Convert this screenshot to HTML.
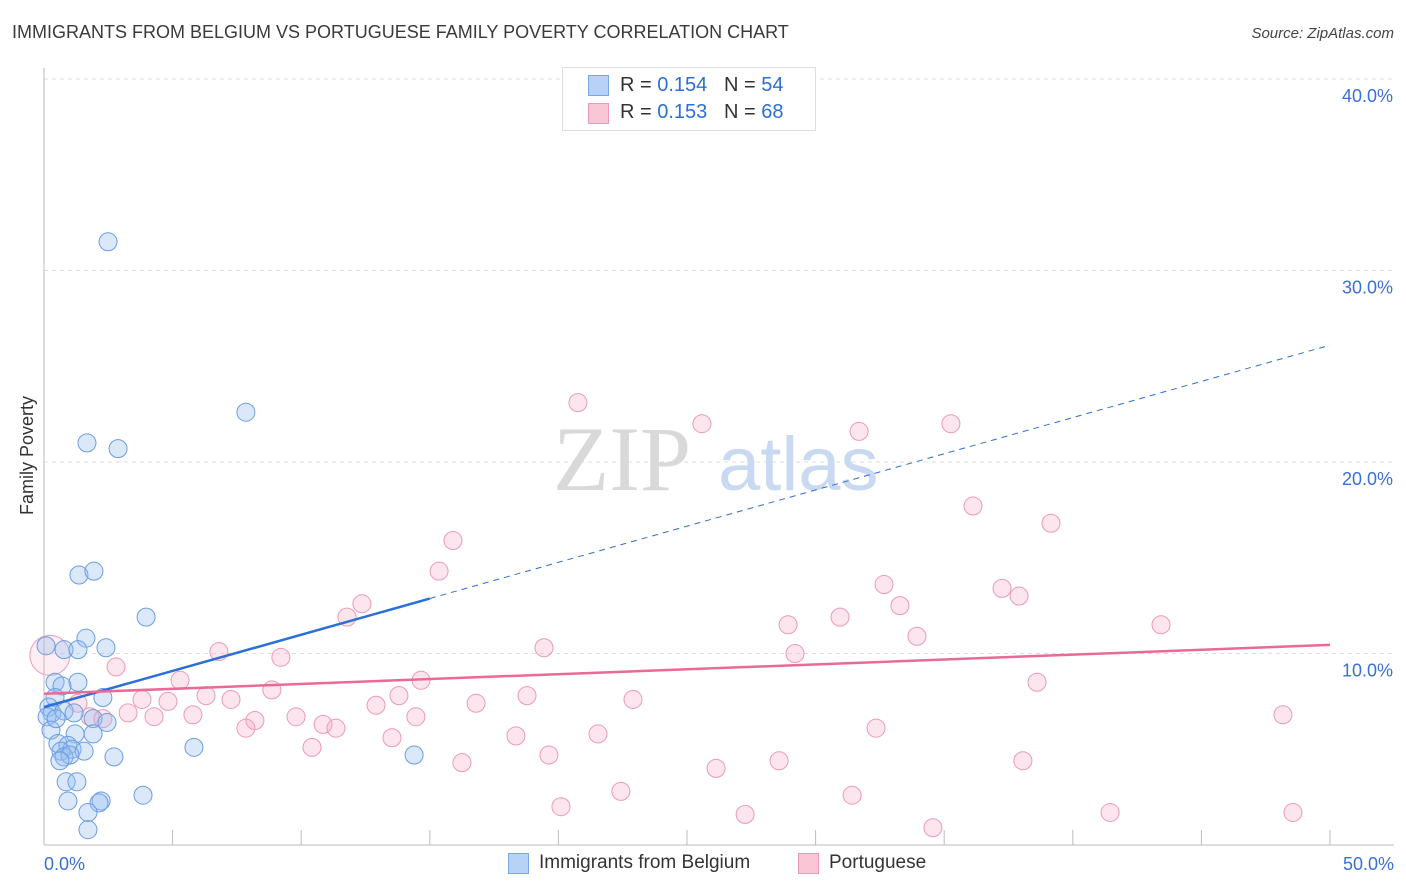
<!DOCTYPE html>
<html><head><meta charset="utf-8">
<style>
body{margin:0;background:#fff;font-family:"Liberation Sans",sans-serif;}
#wrap{position:relative;width:1406px;height:892px;overflow:hidden;}
.t{position:absolute;white-space:nowrap;}
</style></head>
<body>
<div id="wrap">
<div class="t" style="left:12px;top:22px;font-size:18px;color:#3a3a3a;">IMMIGRANTS FROM BELGIUM VS PORTUGUESE FAMILY POVERTY CORRELATION CHART</div>
<div class="t" style="right:12px;top:25px;font-size:15px;color:#444;font-style:italic;">Source: ZipAtlas.com</div>
<div class="t" style="left:-32px;top:445px;font-size:18px;color:#333;transform:rotate(-90deg);">Family Poverty</div>
<svg id="svg" width="1406" height="892" style="position:absolute;left:0;top:0"></svg>
</div>
<script>
const blueX=[2.49,7.85,1.67,2.88,1.36,1.94,3.97,1.63,0.08,0.78,1.32,2.41,0.43,1.32,0.70,2.29,0.43,0.19,0.31,0.78,1.17,0.12,1.91,2.45,0.27,1.21,1.91,0.54,0.93,1.09,1.56,0.66,0.78,1.01,2.72,5.83,14.39,0.86,1.28,0.93,2.22,2.14,3.85,1.71,1.71,0.47,0.62];
const blueY=[31.5,22.6,21.0,20.7,14.1,14.3,11.9,10.8,10.4,10.2,10.2,10.3,8.5,8.5,8.3,7.7,7.7,7.2,6.9,7.0,6.9,6.7,6.6,6.4,6.0,5.8,5.8,5.3,5.2,5.0,4.9,4.9,4.6,4.7,4.6,5.1,4.7,3.3,3.3,2.3,2.3,2.2,2.6,1.7,0.8,6.6,4.4];
const pinkX=[20.76,25.58,31.69,35.26,36.12,39.15,15.90,15.36,32.66,37.25,37.91,33.28,12.36,11.78,30.95,28.93,33.94,43.43,19.44,6.80,29.20,2.80,9.21,5.29,38.61,14.66,8.86,6.30,18.78,13.80,7.27,3.81,4.82,22.90,16.80,12.91,1.32,5.79,4.28,3.27,9.80,14.46,48.17,1.79,2.29,8.20,10.85,11.35,7.85,32.35,18.35,13.53,21.54,10.42,19.63,28.58,38.06,16.25,26.13,22.43,31.42,20.10,27.26,41.45,48.56,34.56,0.23];
const pinkY=[23.1,22.0,21.6,22.0,17.7,16.8,15.9,14.3,13.6,13.4,13.0,12.5,12.6,11.9,11.9,11.5,10.9,11.5,10.3,10.1,10.0,9.3,9.8,8.6,8.5,8.6,8.1,7.8,7.8,7.8,7.6,7.6,7.5,7.6,7.4,7.3,7.4,6.8,6.7,6.9,6.7,6.7,6.8,6.7,6.6,6.5,6.3,6.1,6.1,6.1,5.7,5.6,5.8,5.1,4.7,4.4,4.4,4.3,4.0,2.8,2.6,2.0,1.6,1.7,1.7,0.9,9.9];
const yTicks=[10,20,30,40];
const yTickLabels=["10.0%","20.0%","30.0%","40.0%"];
const blueTrend=[7.2,26.1];
const pinkTrend=[7.9,10.45];
const blueSolidEnd=15;

const X0=44,X1=1330,Y0=845,PY=19.15;
const sx=v=>X0+(X1-X0)*v/50;
const sy=v=>Y0-v*PY;
const svg=document.getElementById('svg');
const NS='http://www.w3.org/2000/svg';
function mk(tag,attrs,parent){const e=document.createElementNS(NS,tag);for(const k in attrs)e.setAttribute(k,attrs[k]);(parent||svg).appendChild(e);return e;}

yTicks.forEach((t,i)=>{
  const g=mk('line',{x1:X0,x2:1394,y1:sy(t),y2:sy(t),stroke:'#ddd','stroke-dasharray':'4,4'});
  
  
  const tx=mk('text',{x:1393,y:sy(t)+23,'text-anchor':'end','font-size':18,fill:'#3a6fd8','font-family':'Liberation Sans,sans-serif'});
  tx.textContent=yTickLabels[i];
  
  
});
mk('line',{x1:X0,x2:X0,y1:68,y2:Y0,stroke:'#bbb'});
mk('line',{x1:X0,x2:1394,y1:Y0,y2:Y0,stroke:'#bbb'});
for(let v=5;v<=50;v+=5){
  const l=mk('line',{x1:sx(v),x2:sx(v),y1:830,y2:Y0,stroke:'#bbb'});
  
  
}
const xl=mk('text',{x:44,y:870,'font-size':18,fill:'#3a6fd8','font-family':'Liberation Sans,sans-serif'});xl.textContent='0.0%';

const xr=mk('text',{x:1394,y:870,'text-anchor':'end','font-size':18,fill:'#3a6fd8','font-family':'Liberation Sans,sans-serif'});xr.textContent='50.0%';


const w1=mk('text',{x:553,y:490,'font-size':92,fill:'#d9d9d9','font-family':'Liberation Serif,serif'});w1.textContent='ZIP';

const w2=mk('text',{x:718,y:490,'font-size':76,fill:'#c9d9f2','font-family':'Liberation Sans,sans-serif'});w2.textContent='atlas';


pinkX.forEach((x,i)=>{
  const big=i==pinkX.length-1;
  const c=mk('circle',{cx:sx(x),cy:sy(pinkY[i]),r:big?20:9,fill:big?'rgba(248,170,195,0.2)':'rgba(248,170,195,0.3)',stroke:'#eb9ab5','stroke-width':1});
  
  
});
blueX.forEach((x,i)=>{
  const c=mk('circle',{cx:sx(x),cy:sy(blueY[i]),r:9,fill:'rgba(150,190,240,0.35)',stroke:'#6b9de0','stroke-width':1});
  
  
});
const bAt=v=>blueTrend[0]+(blueTrend[1]-blueTrend[0])*v/50;
const bl1=mk('line',{x1:sx(0),y1:sy(bAt(0)),x2:sx(blueSolidEnd),y2:sy(bAt(blueSolidEnd)),stroke:'#2c6fd6','stroke-width':2.5});

const bl2=mk('line',{x1:sx(blueSolidEnd),y1:sy(bAt(blueSolidEnd)),x2:sx(50),y2:sy(bAt(50)),stroke:'#2c6fd6','stroke-width':1,'stroke-dasharray':'6,5'});

const pl=mk('line',{x1:sx(0),y1:sy(pinkTrend[0]),x2:sx(50),y2:sy(pinkTrend[1]),stroke:'#e96a95','stroke-width':2.5});

</script>
<div class="t" style="left:562px;top:67px;width:252px;height:62px;border:1px solid #ddd;background:#fff;"></div>
<div class="t" style="left:588px;top:75px;width:19px;height:19px;background:#b7d2f7;border:1px solid #7aa6e6;"></div>
<div class="t" style="left:620px;top:74px;font-size:20px;color:#333;">R = <span style="color:#2c6fd6">0.154</span> &nbsp;&nbsp;N = <span style="color:#2c6fd6">54</span></div>
<div class="t" style="left:588px;top:103px;width:19px;height:19px;background:#f9c6d6;border:1px solid #eb9ab5;"></div>
<div class="t" style="left:620px;top:101px;font-size:20px;color:#333;">R = <span style="color:#2c6fd6">0.153</span> &nbsp;&nbsp;N = <span style="color:#2c6fd6">68</span></div>
<div class="t" style="left:508px;top:853px;width:19px;height:19px;background:#b7d2f7;border:1px solid #7aa6e6;"></div>
<div class="t" style="left:539px;top:852px;font-size:19px;color:#333;">Immigrants from Belgium</div>
<div class="t" style="left:798px;top:853px;width:19px;height:19px;background:#f9c6d6;border:1px solid #eb9ab5;"></div>
<div class="t" style="left:829px;top:852px;font-size:19px;color:#333;">Portuguese</div>
</body></html>
